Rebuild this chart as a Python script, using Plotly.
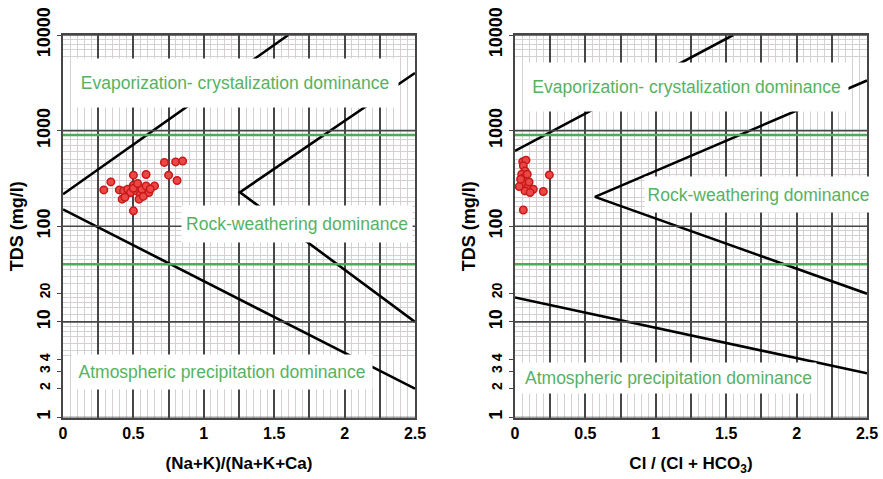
import plotly.graph_objects as go

# ---------------- data ----------------
# Sample points: (Na+K)/(Na+K+Ca) ratio vs TDS
cation_ratio = [0.29, 0.34, 0.40, 0.42, 0.43, 0.46, 0.48, 0.50, 0.50, 0.52, 0.55, 0.56,
                0.59, 0.59, 0.61, 0.65, 0.50, 0.72, 0.75, 0.80, 0.81, 0.85, 0.44, 0.54,
                0.50, 0.57, 0.62, 0.53]
cation_tds = [240, 291, 240, 192, 234, 244, 225, 342, 269, 234, 216, 244,
              348, 264, 225, 264, 145, 465, 342, 471, 301, 480, 201, 192,
              250, 205, 245, 280]

# Sample points: Cl/(Cl+HCO3) ratio vs TDS
anion_ratio = [0.055, 0.078, 0.059, 0.071, 0.048, 0.064, 0.083, 0.055, 0.094, 0.130,
               0.071, 0.107, 0.244, 0.201, 0.059, 0.040, 0.087, 0.030, 0.100]
anion_tds = [474, 491, 428, 379, 350, 323, 298, 279, 264, 244,
             234, 225, 344, 231, 148, 310, 350, 260, 290]

# Gibbs boundary curves (cation diagram)
cat_upper_x = [0, 1.6]
cat_upper_tds = [216, 10000]
cat_mid_x = [2.5, 1.257, 2.5]
cat_mid_tds = [4000, 227, 10]
cat_lower_x = [0, 2.5]
cat_lower_tds = [150, 2.0]

# Gibbs boundary curves (anion diagram)
an_upper_x = [0, 1.55]
an_upper_tds = [614, 10000]
an_mid_x = [2.5, 0.568, 2.5]
an_mid_tds = [3340, 203, 19.7]
an_lower_x = [0, 2.5]
an_lower_tds = [18, 2.9]

# Dominance thresholds
threshold_x = [0, 2.5]
evap_threshold = 900
precip_threshold = 40

# Axis ticks
x_ticks = [0, 0.25, 0.5, 0.75, 1, 1.25, 1.5, 1.75, 2, 2.25, 2.5]
x_ticktext = ["0", "", "0.5", "", "1", "", "1.5", "", "2", "", "2.5"]
y_ticks = [1, 2, 3, 4, 10, 20, 100, 1000, 10000]
y_ticktext = ["1", "2", "3", "4", "10", "20", "100", "1000", "10000"]
y_small_labels = [2, 3, 4, 20]
y_decades = [1, 10, 100, 1000, 10000]

region_labels = ["Evaporization- crystalization dominance",
                 "Rock-weathering dominance",
                 "Atmospheric precipitation dominance"]

# ---------------- styling ----------------
W, H = 883, 479
FONT = "Liberation Sans"
GREEN = "rgb(76,172,84)"
GREEN_TXT = "rgb(86,178,98)"
DARK = "rgb(70,70,70)"
LIGHT = "rgb(212,208,212)"

fine = [1.2, 1.4, 1.6, 1.8, 2, 2.5, 3, 3.5, 4, 4.5, 5, 6, 7, 8, 9]
y_minor = [4.5, 5, 6, 7, 8, 9]
y_minor += [m * 10 for m in fine] + [m * 100 for m in fine]
y_minor += [m * 1000 for m in [6, 7, 8, 9]]

# intermediate labels are set a little smaller than the decade labels
y_labels = [f"<span style='font-size:14px'>{t}</span>" if v in y_small_labels else t
            for v, t in zip(y_ticks, y_ticktext)]

def px_x(p):
    return p / W

def px_y(p):
    return 1 - p / H

y_dom = [px_y(417.5), px_y(35)]
left_dom = [px_x(63), px_x(415)]
right_dom = [px_x(515), px_x(867)]

fig = go.Figure()

def add_panel(xa, ya, curves, px_, ty_):
    for cx, cy in curves:
        fig.add_trace(go.Scatter(x=cx, y=cy, mode="lines", xaxis=xa, yaxis=ya,
                                 line=dict(color="black", width=2.6),
                                 showlegend=False, hoverinfo="skip"))
    for t in (evap_threshold, precip_threshold):
        fig.add_trace(go.Scatter(x=threshold_x, y=[t, t], mode="lines",
                                 xaxis=xa, yaxis=ya,
                                 line=dict(color=GREEN, width=2.6),
                                 showlegend=False, hoverinfo="skip"))
    fig.add_trace(go.Scatter(x=px_, y=ty_, mode="markers", xaxis=xa, yaxis=ya,
                             marker=dict(size=7.5, color="rgb(236,70,70)",
                                         line=dict(color="rgb(200,25,25)", width=1.5)),
                             showlegend=False))

add_panel("x", "y",
          [(cat_upper_x, cat_upper_tds), (cat_mid_x, cat_mid_tds), (cat_lower_x, cat_lower_tds)],
          cation_ratio, cation_tds)
add_panel("x2", "y2",
          [(an_upper_x, an_upper_tds), (an_mid_x, an_mid_tds), (an_lower_x, an_lower_tds)],
          anion_ratio, anion_tds)

tickfont_x = dict(family=FONT, size=16, color="black", weight="bold")
tickfont_y = dict(family=FONT, size=18, color="black", weight="bold")
titlefont = dict(family=FONT, size=17, color="black", weight="bold")

def xaxis(dom, anchor, title):
    return dict(domain=dom, anchor=anchor, range=[0, 2.5], tickvals=x_ticks,
                ticktext=x_ticktext, tickfont=tickfont_x, showgrid=True,
                gridcolor=DARK, gridwidth=1.6, zeroline=False,
                showline=True, linecolor=DARK, linewidth=1.6, mirror=True,
                ticks="", automargin=False,
                minor=dict(dtick=0.05, showgrid=True, gridcolor=LIGHT, gridwidth=1),
                title=dict(text=title, font=titlefont, standoff=17))

def yaxis(anchor, title):
    return dict(domain=y_dom, anchor=anchor, type="log", range=[0, 4],
                tickvals=y_ticks, ticktext=y_labels, tickangle=-90,
                tickfont=tickfont_y, showgrid=False,
                zeroline=False, showline=True, linecolor=DARK, linewidth=1.6,
                mirror=True, ticks="outside", ticklen=4, tickcolor=DARK,
                automargin=False,
                minor=dict(tickvals=y_minor, showgrid=True, gridcolor=LIGHT, gridwidth=1),
                title=dict(text=title, font=dict(family=FONT, size=18, color="black",
                                                 weight="bold"), standoff=6))

fig.update_layout(
    width=W, height=H, margin=dict(l=0, r=0, t=0, b=0),
    paper_bgcolor="white", plot_bgcolor="white",
    xaxis=xaxis(left_dom, "y", "(Na+K)/(Na+K+Ca)"),
    yaxis=yaxis("x", "TDS (mg/l)"),
    xaxis2=xaxis(right_dom, "y2", "Cl / (Cl + HCO<sub>3</sub>)"),
    yaxis2=yaxis("x2", "TDS (mg/l)"),
)

# Solid dark decade rules across each panel
for xr, yr in (("x domain", "y"), ("x2 domain", "y2")):
    for d in y_decades:
        fig.add_shape(type="line", xref=xr, yref=yr, x0=0, x1=1, y0=d, y1=d,
                      layer="above", line=dict(color=DARK, width=1.6))

# Region labels on white panels
boxes = [
    (region_labels[0], 235, 83, 326, 48),
    (region_labels[1], 297, 224, 230, 36),
    (region_labels[2], 222, 372, 300, 34),
    (region_labels[0], 686, 87, 323, 48),
    (region_labels[1], 758, 194, 227, 35),
    (region_labels[2], 668, 378, 295, 30),
]
for text, cx, cy, w, h in boxes:
    fig.add_annotation(text=text, xref="paper", yref="paper", x=px_x(cx), y=px_y(cy),
                       xanchor="center", yanchor="middle", showarrow=False,
                       width=w, height=h, bgcolor="white", borderpad=0,
                       font=dict(family=FONT, size=17.5, color=GREEN_TXT))

fig.write_html("out.html")
